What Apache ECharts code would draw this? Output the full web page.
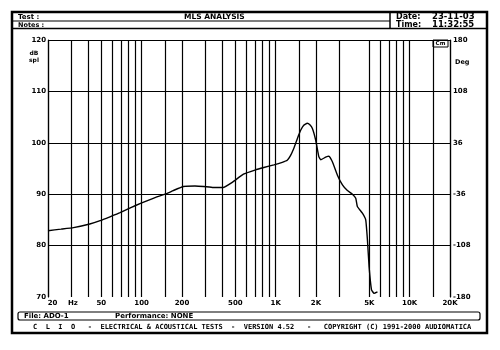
<!DOCTYPE html>
<html>
<head>
<meta charset="utf-8">
<script src="https://cdn.jsdelivr.net/npm/echarts@6/dist/echarts.min.js"></script>
<style>html,body{margin:0;padding:0;background:#fff}#c{width:500px;height:350px}</style>
</head>
<body>
<div id="c"></div>
<script>
// --- data ---
const freqs = [20, 25, 31, 41, 49, 58, 69, 83, 98, 122, 153, 172, 205, 250, 290, 342, 405, 474, 575, 700, 816, 970, 1120, 1220, 1290, 1360, 1410, 1480, 1540, 1620, 1720, 1800, 1880, 1990, 2100, 2170, 2360, 2500, 2650, 2890, 3150, 3430, 3740, 3960, 4070, 4440, 4700, 4840, 4980, 5190, 5420, 5750];
const splValues = [82.9, 83.2, 83.5, 84.2, 84.85, 85.6, 86.4, 87.4, 88.2, 89.2, 90.1, 90.7, 91.5, 91.6, 91.5, 91.3, 91.3, 92.3, 93.9, 94.7, 95.2, 95.7, 96.2, 96.6, 97.5, 98.8, 99.9, 101.4, 102.5, 103.4, 103.8, 103.5, 102.8, 100.5, 97.3, 96.7, 97.2, 97.4, 96.3, 93.7, 91.8, 90.7, 90.0, 89.2, 87.6, 86.3, 85.0, 81.1, 75.9, 71.4, 70.7, 71.0];
const gridFreqs = [20, 30, 40, 50, 60, 70, 80, 90, 100, 150, 200, 300, 400, 500, 600, 700, 800, 900, 1000, 1500, 2000, 3000, 5000, 6000, 7000, 8000, 9000, 10000, 15000, 20000];
const gridDb = [80, 90, 100, 110, 120];
const xTickValues = [20, 50, 100, 200, 500, 1000, 2000, 5000, 10000, 20000];
const xTickLabels = ['20', '50', '100', '200', '500', '1K', '2K', '5K', '10K', '20K'];
const degLabels = ['-180', '-108', '-36', '36', '108', '180'];

const F = 'DejaVu Sans';
const M = 'DejaVu Sans Mono';
const chart = echarts.init(document.getElementById('c'), null, {renderer: 'canvas'});

const lineData = freqs.map((f, i) => [f, splValues[i]]);
const markData = gridFreqs.map(f => ({xAxis: f})).concat(gridDb.map(v => ({yAxis: v})));

function txt(x, y, s, size, opts) {
  return Object.assign({type: 'text', x: x, y: y, silent: true,
    style: Object.assign({text: s, fill: '#000', font: 'bold ' + size + 'px ' + F, textVerticalAlign: 'middle'}, opts || {})});
}
function ln(x1, y1, x2, y2, w) {
  return {type: 'line', silent: true, shape: {x1: x1, y1: y1, x2: x2, y2: y2}, style: {stroke: '#000', lineWidth: w || 1}};
}

chart.setOption({
  backgroundColor: '#fff',
  animation: false,
  grid: {left: 48, right: 50, top: 40, bottom: 53},
  xAxis: {
    type: 'log', logBase: 10, min: 20, max: 20000,
    axisLine: {show: false}, axisTick: {show: false}, splitLine: {show: false},
    axisLabel: {
      customValues: xTickValues,
      formatter: v => {
        const i = xTickValues.findIndex(t => Math.abs(t - v) < 1e-6 * t);
        if (i === 0) return '{l|' + xTickLabels[0] + '}';
        return i >= 0 ? xTickLabels[i] : '';
      },
      rich: {l: {padding: [0, 0, 0, 9], fontFamily: F, fontWeight: 'bold', fontSize: 7, color: '#000'}},
      color: '#000', fontFamily: F, fontWeight: 'bold', fontSize: 7, margin: 3,
      showMinLabel: true, showMaxLabel: true
    }
  },
  yAxis: [{
    type: 'value', min: 70, max: 120, interval: 10,
    axisLine: {show: true, lineStyle: {color: '#000', width: 1.2}},
    axisTick: {show: false}, splitLine: {show: false},
    axisLabel: {color: '#000', fontFamily: F, fontWeight: 'bold', fontSize: 7, margin: 2}
  }, {
    type: 'value', min: 70, max: 120, interval: 10, position: 'right',
    axisLine: {show: true, lineStyle: {color: '#000', width: 1.2}},
    axisTick: {show: false}, splitLine: {show: false},
    axisLabel: {color: '#000', fontFamily: F, fontWeight: 'bold', fontSize: 7, margin: 3,
      formatter: v => degLabels[Math.round((v - 70) / 10)]}
  }],
  series: [{
    type: 'line',
    data: lineData,
    showSymbol: false,
    smooth: 0.1,
    z: 3,
    lineStyle: {color: '#000', width: 1.4},
    markLine: {
      z: 1, silent: true, symbol: ['none', 'none'],
      label: {show: false},
      lineStyle: {color: '#000', width: 1.2, type: 'solid'},
      emphasis: {disabled: true},
      data: markData
    }
  }],
  graphic: [
    // outer frame
    {type: 'rect', silent: true, shape: {x: 12, y: 12, width: 475, height: 321}, style: {fill: 'none', stroke: '#000', lineWidth: 2.5}},
    ln(12, 21, 390, 21, 1.2),
    ln(12, 28.5, 487, 28.5, 1.5),
    ln(390, 12, 390, 28.5, 1.5),
    txt(18, 17, 'Test :', 7),
    txt(18, 25, 'Notes :', 6.5),
    txt(184, 17, 'MLS ANALYSIS', 7.5),
    txt(396, 17, 'Date:', 8),
    txt(432, 17, '23-11-03', 8.5),
    txt(396, 25, 'Time:', 8),
    txt(432, 25, '11:32:55', 8.5),
    // units
    txt(34, 53, 'dB', 6, {textAlign: 'center'}),
    txt(34, 60, 'spl', 6, {textAlign: 'center'}),
    txt(455, 62, 'Deg', 6.5),
    txt(68, 303, 'Hz', 7),
    // Cm box
    {type: 'rect', silent: true, shape: {x: 433, y: 40, width: 15, height: 7}, style: {fill: '#fff', stroke: '#000', lineWidth: 1}},
    txt(440.5, 43.5, 'Cm', 5.5, {textAlign: 'center'}),
    // file box
    {type: 'rect', silent: true, shape: {x: 18, y: 312, width: 462, height: 8, r: 2}, style: {fill: 'none', stroke: '#000', lineWidth: 1.2}},
    txt(24, 316, 'File: ADO-1', 7),
    txt(115, 316, 'Performance: NONE', 7),
    txt(33, 327, 'C  L  I  O   -  ELECTRICAL & ACOUSTICAL TESTS  -  VERSION 4.52   -   COPYRIGHT (C) 1991-2000 AUDIOMATICA', 7, {font: 'bold 7px ' + M})
  ]
});
</script>
</body>
</html>
